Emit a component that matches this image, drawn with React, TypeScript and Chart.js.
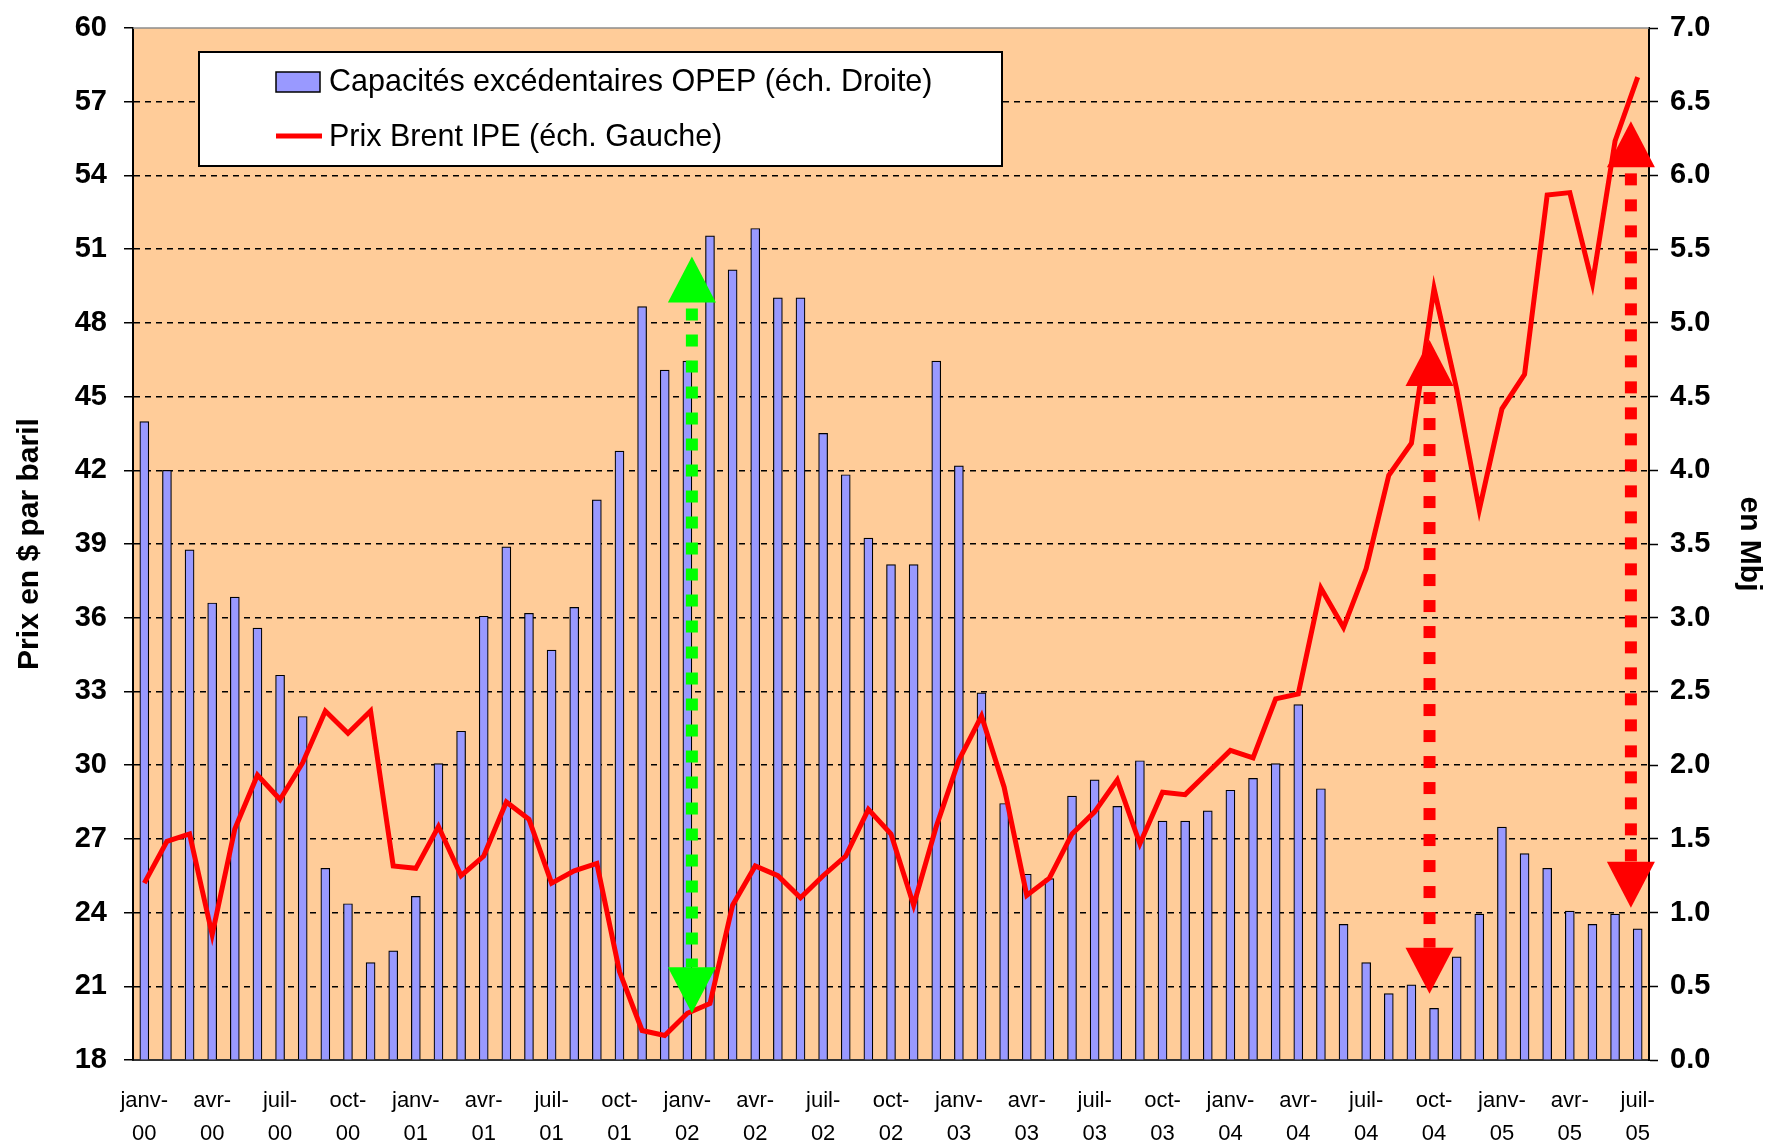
import React, { useEffect, useRef } from "react";
import { Chart, registerables } from "chart.js";

Chart.register(...registerables);

const CATEGORIES = [
  "janv-00", "févr-00", "mars-00", "avr-00", "mai-00", "juin-00", "juil-00", "août-00", "sept-00", "oct-00", "nov-00", "déc-00",
  "janv-01", "févr-01", "mars-01", "avr-01", "mai-01", "juin-01", "juil-01", "août-01", "sept-01", "oct-01", "nov-01", "déc-01",
  "janv-02", "févr-02", "mars-02", "avr-02", "mai-02", "juin-02", "juil-02", "août-02", "sept-02", "oct-02", "nov-02", "déc-02",
  "janv-03", "févr-03", "mars-03", "avr-03", "mai-03", "juin-03", "juil-03", "août-03", "sept-03", "oct-03", "nov-03", "déc-03",
  "janv-04", "févr-04", "mars-04", "avr-04", "mai-04", "juin-04", "juil-04", "août-04", "sept-04", "oct-04", "nov-04", "déc-04",
  "janv-05", "févr-05", "mars-05", "avr-05", "mai-05", "juin-05", "juil-05",
];

// Capacités excédentaires OPEP (Mbj, right axis)
const SPARE_CAPACITY = [
  4.33, 4.00, 3.46, 3.10, 3.14, 2.93, 2.61, 2.33, 1.30, 1.06, 0.66, 0.74,
  1.11, 2.01, 2.23, 3.01, 3.48, 3.03, 2.78, 3.07, 3.80, 4.13, 5.11, 4.68,
  4.74, 5.59, 5.36, 5.64, 5.17, 5.17, 4.25, 3.97, 3.54, 3.36, 3.36, 4.74,
  4.03, 2.49, 1.74, 1.26, 1.23, 1.79, 1.90, 1.72, 2.03, 1.62, 1.62, 1.69,
  1.83, 1.91, 2.01, 2.41, 1.84, 0.92, 0.66, 0.45, 0.51, 0.35, 0.70, 0.99,
  1.58, 1.40, 1.30, 1.01, 0.92, 0.99, 0.89,
];

// Prix Brent IPE ($ par baril, left axis)
const BRENT_PRICE = [
  25.2, 26.9, 27.2, 23.1, 27.4, 29.6, 28.6, 30.1, 32.2, 31.3, 32.2, 25.9,
  25.8, 27.5, 25.5, 26.3, 28.5, 27.8, 25.2, 25.7, 26.0, 21.6, 19.2, 19.0,
  19.9, 20.3, 24.3, 25.9, 25.5, 24.6, 25.5, 26.3, 28.2, 27.2, 24.3, 27.5,
  30.2, 32.0, 29.1, 24.7, 25.4, 27.2, 28.1, 29.4, 26.8, 28.9, 28.8, 29.7,
  30.6, 30.3, 32.7, 32.9, 37.2, 35.6, 38.0, 41.8, 43.1, 49.4, 45.3, 40.4,
  44.5, 45.9, 53.2, 53.3, 49.6, 55.4, 58.0,
];

const SERIES_NAMES = [
  "Capacités excédentaires OPEP (éch. Droite)",
  "Prix Brent IPE (éch. Gauche)",
];

const LEFT_TITLE = "Prix en $ par baril";
const RIGHT_TITLE = "en Mbj";

// Double-headed dotted arrows: category position, apex values on left axis
const ARROW_POS = [24.2, 56.8, 65.7];
const ARROW_TOP = [50.7, 47.3, 56.2];
const ARROW_BOTTOM = [19.9, 20.7, 24.2];
const ARROW_COLORS = ["#00FF00", "#FF0000", "#FF0000"];

const FONT = '"Liberation Sans", Arial, sans-serif';

const bgPlugin = {
  id: "plotBg",
  beforeDraw(chart: any) {
    const { ctx, chartArea } = chart;
    ctx.save();
    ctx.fillStyle = "#FFCC99";
    ctx.fillRect(chartArea.left, chartArea.top, chartArea.right - chartArea.left, chartArea.bottom - chartArea.top);
    ctx.restore();
  },
};

const arrowPlugin = {
  id: "arrows",
  afterDatasetsDraw(chart: any) {
    const { ctx, chartArea } = chart;
    const xs = chart.scales.x;
    const ys = chart.scales.y;
    ctx.save();
    // top border of plot
    ctx.strokeStyle = "#8c8c8c";
    ctx.lineWidth = 1.5;
    ctx.beginPath();
    ctx.moveTo(chartArea.left, chartArea.top);
    ctx.lineTo(chartArea.right, chartArea.top);
    ctx.stroke();

    const half = 24;
    const head = 46;
    const dash = 12;
    const gap = 14;
    for (let i = 0; i < ARROW_POS.length; i++) {
      const x = xs.getPixelForValue(ARROW_POS[i]);
      const yTop = ys.getPixelForValue(ARROW_TOP[i]);
      const yBot = ys.getPixelForValue(ARROW_BOTTOM[i]);
      ctx.fillStyle = ARROW_COLORS[i];
      ctx.beginPath();
      ctx.moveTo(x, yTop);
      ctx.lineTo(x - half, yTop + head);
      ctx.lineTo(x + half, yTop + head);
      ctx.closePath();
      ctx.fill();
      ctx.beginPath();
      ctx.moveTo(x, yBot);
      ctx.lineTo(x - half, yBot - head);
      ctx.lineTo(x + half, yBot - head);
      ctx.closePath();
      ctx.fill();
      const start = yTop + head + 6;
      const end = yBot - head;
      for (let y = start; y < end; y += dash + gap) {
        const h = Math.min(dash, end - y);
        ctx.fillRect(x - 6, y, 12, h);
      }
    }
    ctx.restore();
  },
};

const legendPlugin = {
  id: "boxLegend",
  afterDraw(chart: any) {
    const { ctx } = chart;
    ctx.save();
    ctx.fillStyle = "#FFFFFF";
    ctx.fillRect(199, 52, 803, 114);
    ctx.strokeStyle = "#000";
    ctx.lineWidth = 2;
    ctx.strokeRect(199, 52, 803, 114);

    ctx.fillStyle = "#9999FF";
    ctx.fillRect(276, 72, 44, 20);
    ctx.lineWidth = 1.5;
    ctx.strokeStyle = "#000";
    ctx.strokeRect(276, 72, 44, 20);

    ctx.strokeStyle = "#FF0000";
    ctx.lineWidth = 5;
    ctx.beginPath();
    ctx.moveTo(276, 136);
    ctx.lineTo(322, 136);
    ctx.stroke();

    ctx.fillStyle = "#000";
    ctx.font = `30.5px ${FONT}`;
    ctx.textBaseline = "middle";
    ctx.textAlign = "left";
    ctx.fillText(SERIES_NAMES[0], 329, 83);
    ctx.fillText(SERIES_NAMES[1], 329, 138);
    ctx.restore();
  },
};

export default function App() {
  const ref = useRef<HTMLCanvasElement>(null);

  useEffect(() => {
    const canvas = ref.current;
    if (!canvas) return;
    const chart = new Chart(canvas, {
      type: "bar",
      data: {
        labels: CATEGORIES,
        datasets: [
          {
            type: "line",
            label: SERIES_NAMES[1],
            data: BRENT_PRICE,
            yAxisID: "y",
            borderColor: "#FF0000",
            borderWidth: 5,
            pointRadius: 0,
            tension: 0,
            borderJoinStyle: "miter",
            order: 0,
          } as any,
          {
            type: "bar",
            label: SERIES_NAMES[0],
            data: SPARE_CAPACITY,
            yAxisID: "y1",
            backgroundColor: "#9999FF",
            borderColor: "#000000",
            borderWidth: 1.2,
            barThickness: 9,
            order: 1,
          } as any,
        ],
      },
      options: {
        responsive: false,
        animation: false,
        layout: { padding: { top: 28, left: 0, right: 0, bottom: 0 } },
        plugins: {
          legend: { display: false },
          tooltip: { enabled: false },
        },
        scales: {
          x: {
            offset: true,
            grid: { display: false, drawTicks: false },
            border: { display: true, color: "#333333", width: 2 },
            ticks: {
              autoSkip: false,
              maxRotation: 0,
              minRotation: 0,
              padding: 24,
              color: "#000",
              font: { family: FONT, size: 22, lineHeight: 1.5 },
              callback: (_v: any, index: number) => {
                if (index % 3 !== 0) return "";
                const parts = CATEGORIES[index].split("-");
                return [parts[0] + "-", parts[1]];
              },
            },
            afterFit: (s: any) => {
              s.height = 82;
              s.paddingLeft = 0;
              s.paddingRight = 0;
            },
          },
          y: {
            position: "left",
            min: 18,
            max: 60,
            ticks: {
              stepSize: 3,
              padding: 17,
              color: "#000",
              font: { family: FONT, size: 29, weight: "bold" },
            },
            grid: {
              color: (c: any) =>
                c.tick && (c.tick.value === 60 || c.tick.value === 18) ? "rgba(0,0,0,0)" : "#000",
              lineWidth: 1.5,
              tickBorderDash: [],
              tickColor: "#000",
              tickLength: 9,
              tickWidth: 1.5,
            },
            border: { display: true, color: "#000", width: 2, dash: [6, 5] },
            title: {
              display: true,
              text: LEFT_TITLE,
              color: "#000",
              font: { family: FONT, size: 30, weight: "bold", lineHeight: 1.2 },
              padding: { top: 12, bottom: 0 },
            },
            afterFit: (s: any) => {
              s.width = 133;
              s.paddingTop = 0;
              s.paddingBottom = 0;
            },
          },
          y1: {
            position: "right",
            min: 0,
            max: 7,
            ticks: {
              stepSize: 0.5,
              padding: 12,
              color: "#000",
              font: { family: FONT, size: 29, weight: "bold" },
              callback: (v: any) => Number(v).toFixed(1),
            },
            grid: {
              drawOnChartArea: false,
              drawTicks: true,
              tickColor: "#000",
              tickLength: 9,
              tickWidth: 1.5,
            },
            border: { display: true, color: "#000", width: 2 },
            title: {
              display: true,
              text: RIGHT_TITLE,
              color: "#000",
              font: { family: FONT, size: 30, weight: "bold", lineHeight: 1.2 },
              padding: { top: 0, bottom: 0 },
            },
            afterFit: (s: any) => {
              s.width = 118;
              s.paddingTop = 0;
              s.paddingBottom = 0;
            },
          },
        },
      } as any,
      plugins: [bgPlugin, arrowPlugin, legendPlugin],
    });
    return () => chart.destroy();
  }, []);

  return (
    <div style={{ position: "absolute", left: 0, top: 0, width: 1767, height: 1142, background: "#ffffff" }}>
      <canvas ref={ref} width={1767} height={1142} style={{ display: "block", width: 1767, height: 1142 }} />
    </div>
  );
}
